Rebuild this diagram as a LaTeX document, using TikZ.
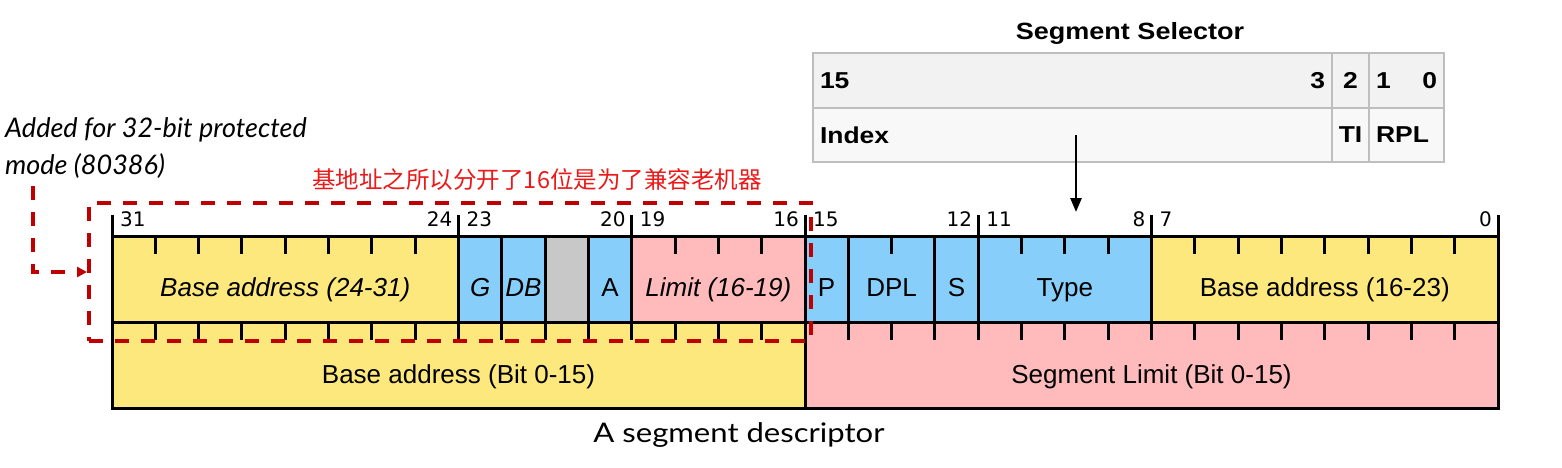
\documentclass[tikz,border=0pt]{standalone}
\usepackage{fontspec}
\setmainfont{Liberation Sans}
\newfontfamily\bitfont{DejaVu Sans}
\newfontfamily\selfont[FakeStretch=1.15]{Liberation Sans}
\newfontfamily\notefont{Lato}
\newfontfamily\capfont[FakeStretch=1.15]{Lato}
\newfontfamily\cjkfont{Noto Sans CJK SC}
\usepackage{tikz}
\usetikzlibrary{arrows.meta}
\definecolor{fieldyellow}{RGB}{253,232,125}
\definecolor{fieldblue}{RGB}{135,206,250}
\definecolor{fieldpink}{RGB}{255,187,187}
\definecolor{fieldgray}{RGB}{200,200,200}
\definecolor{oldred}{RGB}{192,0,0}
\definecolor{notered}{RGB}{235,25,25}
\definecolor{selborder}{RGB}{190,190,190}
\definecolor{selhead}{RGB}{242,242,242}
\definecolor{selbody}{RGB}{248,248,248}

\begin{document}
\begin{tikzpicture}[x=1pt, y=-1pt,
  field/.style={draw, line width=3pt},
  bittick/.style={line width=3pt},
  fieldtext/.style={anchor=base, inner sep=0pt, font=\fontsize{26}{30}\selectfont},
  bitnum/.style={inner sep=0pt, font=\bitfont\fontsize{20}{24}\selectfont},
  selcell/.style={draw=selborder, line width=2pt, inner xsep=7pt, inner ysep=0pt, font=\selfont\bfseries\fontsize{23}{26}\selectfont},
  oldbox/.style={draw=oldred, line width=4pt, dash pattern=on 14pt off 12pt}]
\useasboundingbox (0,0) rectangle (1562,468);

% selector
\node[anchor=base, inner sep=0pt, font=\selfont\bfseries\fontsize{23.5}{26}\selectfont] (seltitle) at (1130,40) {Segment Selector};
\node[selcell, fill=selhead, minimum height=55pt, text width=505pt] (idxbits) at (1072.5,80.5) {15\hfill 3};
\node[selcell, fill=selhead, minimum height=55pt, minimum width=37pt, inner xsep=0pt] (tibit) at (1350.5,80.5) {2};
\node[selcell, fill=selhead, minimum height=55pt, text width=61pt] (rplbits) at (1406.5,80.5) {1\hfill 0};
\node[selcell, fill=selbody, minimum height=54pt, text width=505pt] (index) at (1072.5,135) {Index};
\node[selcell, fill=selbody, minimum height=54pt, minimum width=37pt, inner xsep=0pt] (ti) at (1350.5,135) {TI};
\node[selcell, fill=selbody, minimum height=54pt, text width=61pt] (rpl) at (1406.5,135) {RPL};

% descriptor
\begin{scope}[x=43.3125pt, xshift=112pt]
\draw[field, fill=fieldyellow] (0,236) rectangle (8,322);
\draw[field, fill=fieldblue] (8,236) rectangle (9,322);
\draw[field, fill=fieldblue] (9,236) rectangle (10,322);
\draw[field, fill=fieldgray] (10,236) rectangle (11,322);
\draw[field, fill=fieldblue] (11,236) rectangle (12,322);
\draw[field, fill=fieldpink] (12,236) rectangle (16,322);
\draw[field, fill=fieldblue] (16,236) rectangle (17,322);
\draw[field, fill=fieldblue] (17,236) rectangle (19,322);
\draw[field, fill=fieldblue] (19,236) rectangle (20,322);
\draw[field, fill=fieldblue] (20,236) rectangle (24,322);
\draw[field, fill=fieldyellow] (24,236) rectangle (32,322);
\draw[field, fill=fieldyellow] (0,322) rectangle (16,408);
\draw[field, fill=fieldpink] (16,322) rectangle (32,408);

\foreach \i in {1,...,7,13,14,15,18,21,22,23,25,26,...,31}
  \draw[bittick] (\i,236) -- ++(0,18);
\foreach \i in {1,...,15,17,18,...,31}
  \draw[bittick] (\i,322) -- ++(0,18);
\foreach \i in {0,8,12,16,20,24,32}
  \draw[bittick] (\i,236) -- ++(0,-21);

\foreach \i/\b in {0/31,8/23,12/19,16/15,20/11,24/7}
  \node[bitnum, anchor=base west, xshift=8pt] (hi\b) at (\i,226) {\b};
\foreach \i/\b in {8/24,12/20,16/16,20/12,24/8,32/0}
  \node[bitnum, anchor=base east, xshift=-6pt] (lo\b) at (\i,226) {\b};

\node[fieldtext] (base2431) at (4,296) {\itshape Base address (24-31)};
\node[fieldtext] (gbit) at (8.5,296) {\itshape G};
\node[fieldtext] (dbbit) at (9.5,296) {\itshape DB};
\node[fieldtext] (abit) at (11.5,296) {A};
\node[fieldtext] (lim1619) at (14,296) {\itshape Limit (16-19)};
\node[fieldtext] (pbit) at (16.5,296) {P};
\node[fieldtext] (dpl) at (18,296) {DPL};
\node[fieldtext] (sbit) at (19.5,296) {S};
\node[fieldtext] (typebits) at (22,296) {Type};
\node[fieldtext] (base1623) at (28,296) {Base address (16-23)};
\node[fieldtext] (base015) at (8,383) {Base address (Bit 0-15)};
\node[fieldtext] (lim015) at (24,383) {Segment Limit (Bit 0-15)};
\end{scope}

\coordinate (typetop) at (1076,212);
\draw[line width=2.5pt, -{Triangle[length=14pt,width=11pt]}] (index.center -| typetop) -- (typetop);

% 80386 part
\node[anchor=north west, align=left, inner sep=0pt, font=\notefont\itshape\fontsize{27}{37}\selectfont] (note) at (5,117) {Added for 32-bit protected\\mode (80386)};
\node[anchor=base, inner sep=0pt, text=notered, font=\cjkfont\fontsize{23.5}{26}\selectfont] (splitnote) at (537,188) {基地址之所以分开了16位是为了兼容老机器};
\node[oldbox, minimum width=722pt, minimum height=138pt, inner sep=0pt] (oldpart) at (450,272) {};
\draw[oldbox, -{Triangle[length=10pt,width=10pt]}] ([xshift=28pt,yshift=-8pt]note.south west) |- (oldpart.west);

\node[anchor=base, inner sep=0pt, font=\capfont\fontsize{27}{30}\selectfont] (caption) at (739,442) {A segment descriptor};
\end{tikzpicture}
\end{document}
